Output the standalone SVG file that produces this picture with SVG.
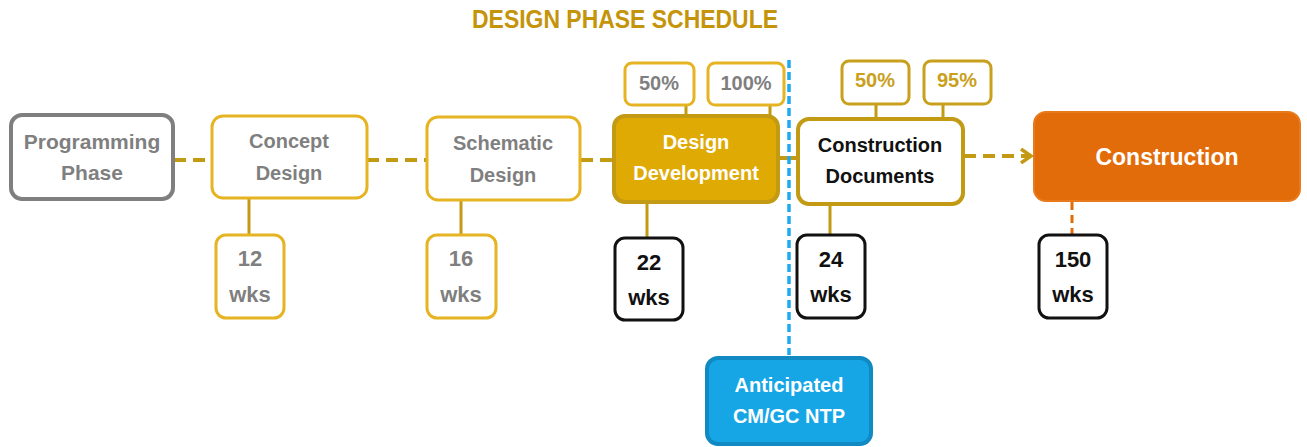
<svg xmlns="http://www.w3.org/2000/svg" width="1307" height="447" viewBox="0 0 1307 447">
<style>
text{font-family:"Liberation Sans",Arial,sans-serif;font-weight:bold;text-anchor:middle}
.t{font-size:20px}
.n{font-size:22px}
.gray{fill:#7f7f7f}
.blk{fill:#111}
.wht{fill:#fff}
.gld{fill:#c9a01c}
.lb{fill:#fff;stroke:#e6b422;stroke-width:3}
.db{fill:#fff;stroke:#c39a14;stroke-width:4}
.kb{fill:#fff;stroke:#111;stroke-width:3}
.dash{stroke:#c39a14;stroke-width:4;stroke-dasharray:12 7;fill:none}
.stem{stroke:#c39a14;stroke-width:3;fill:none}
</style>
<defs>
<marker id="chev" markerWidth="14" markerHeight="16" refX="12" refY="8" orient="auto" markerUnits="userSpaceOnUse">
<path d="M2,1 L12,8 L2,15" fill="none" stroke="#c39a14" stroke-width="3.5"/>
</marker>
</defs>
<text x="625" y="28" style="font-size:26px;fill:#c4940a" textLength="306" lengthAdjust="spacingAndGlyphs">DESIGN PHASE SCHEDULE</text>
<g id="connectors">
<line class="dash" x1="174" y1="160" x2="212" y2="160"/>
<line class="dash" x1="367" y1="160" x2="427" y2="160"/>
<line class="dash" x1="581" y1="160" x2="613" y2="160"/>
<line class="stem" style="stroke-width:4" x1="780" y1="158" x2="797" y2="158"/>
<line class="dash" x1="964" y1="156" x2="1031" y2="156" marker-end="url(#chev)"/>
<line class="stem" x1="249" y1="199" x2="249" y2="235"/>
<line class="stem" x1="461" y1="201" x2="461" y2="235"/>
<line class="stem" x1="647" y1="204" x2="647" y2="238"/>
<line class="stem" x1="830" y1="205" x2="830" y2="235"/>
<line x1="1072" y1="202" x2="1072" y2="235" stroke="#e36c0a" stroke-width="3" stroke-dasharray="8 5"/>
<line class="stem" x1="686" y1="105" x2="686" y2="115"/>
<line class="stem" x1="770" y1="105" x2="770" y2="115"/>
<line class="stem" x1="876" y1="104" x2="876" y2="118"/>
<line class="stem" x1="943" y1="104" x2="943" y2="118"/>
<line x1="789" y1="60" x2="789" y2="355" stroke="#1eaaf0" stroke-width="3.5" stroke-dasharray="8 4"/>
</g>
<g id="programming">
<rect x="11" y="115" width="162" height="84" rx="11" fill="#fff" stroke="#7f7f7f" stroke-width="4"/>
<text class="gray" style="font-size:21px" x="92" y="149">Programming</text>
<text class="gray" style="font-size:21px" x="92" y="180">Phase</text>
</g>
<g id="concept">
<rect class="lb" x="212" y="116" width="155" height="82" rx="11"/>
<text class="t gray" x="289" y="148">Concept</text>
<text class="t gray" x="289" y="180">Design</text>
</g>
<g id="concept-wks">
<rect class="lb" x="216" y="235" width="68" height="83" rx="10"/>
<text class="n gray" x="250" y="266">12</text>
<text class="n gray" x="250" y="302">wks</text>
</g>
<g id="schematic">
<rect class="lb" x="427" y="117" width="153" height="83" rx="11"/>
<text class="t gray" x="503" y="150">Schematic</text>
<text class="t gray" x="503" y="182">Design</text>
</g>
<g id="schematic-wks">
<rect class="lb" x="427" y="235" width="69" height="83" rx="10"/>
<text class="n gray" x="461" y="266">16</text>
<text class="n gray" x="461" y="302">wks</text>
</g>
<g id="dd">
<rect x="614" y="116" width="164" height="86" rx="11" fill="#e0aa05" stroke="#c39a14" stroke-width="4"/>
<text class="t wht" x="696" y="149">Design</text>
<text class="t wht" x="696" y="180">Development</text>
</g>
<g id="dd-50">
<rect class="lb" x="625" y="63" width="69" height="42" rx="7"/>
<text class="t gray" x="659" y="90">50%</text>
</g>
<g id="dd-100">
<rect class="lb" x="708" y="63" width="76" height="42" rx="7"/>
<text class="t gray" x="746" y="90">100%</text>
</g>
<g id="dd-wks">
<rect class="kb" x="615" y="238" width="68" height="82" rx="10"/>
<text class="n blk" x="649" y="270">22</text>
<text class="n blk" x="649" y="305">wks</text>
</g>
<g id="cd">
<rect class="db" x="798" y="119" width="165" height="85" rx="11"/>
<text class="t blk" x="880" y="152">Construction</text>
<text class="t blk" x="880" y="183">Documents</text>
</g>
<g id="cd-50">
<rect x="842" y="61" width="67" height="43" rx="7" fill="#fff" stroke="#c9a01c" stroke-width="3"/>
<text class="t gld" x="875" y="87">50%</text>
</g>
<g id="cd-95">
<rect x="924" y="61" width="67" height="43" rx="7" fill="#fff" stroke="#c9a01c" stroke-width="3"/>
<text class="t gld" x="957" y="87">95%</text>
</g>
<g id="cd-wks">
<rect class="kb" x="797" y="235" width="68" height="83" rx="10"/>
<text class="n blk" x="831" y="267">24</text>
<text class="n blk" x="831" y="302">wks</text>
</g>
<g id="construction">
<rect x="1034" y="112" width="266" height="89" rx="12" fill="#e36c0a" stroke="#e87a1c" stroke-width="2"/>
<text class="wht" style="font-size:23px" x="1167" y="165">Construction</text>
</g>
<g id="construction-wks">
<rect class="kb" x="1039" y="235" width="68" height="83" rx="10"/>
<text class="n blk" x="1073" y="267">150</text>
<text class="n blk" x="1073" y="302">wks</text>
</g>
<g id="ntp">
<rect x="707" y="358" width="164" height="86" rx="11" fill="#16a6e6" stroke="#1189c2" stroke-width="4"/>
<text class="t wht" x="789" y="392">Anticipated</text>
<text class="t wht" x="789" y="423">CM/GC NTP</text>
</g>
</svg>
